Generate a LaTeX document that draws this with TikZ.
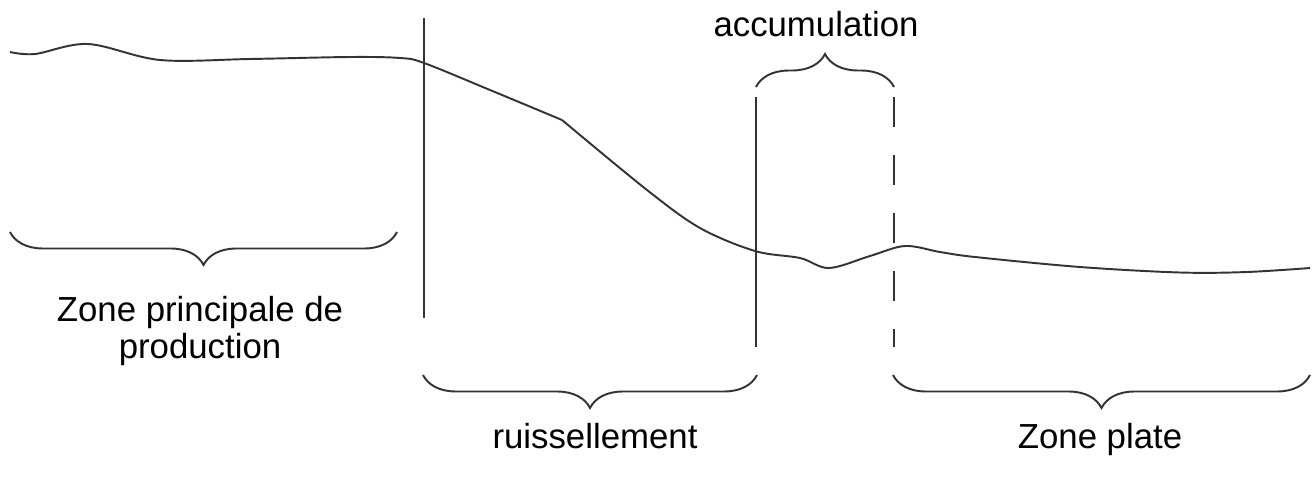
\documentclass[tikz,border=0pt]{standalone}
\usepackage{fontspec}
\setmainfont{Liberation Sans}
\usetikzlibrary{decorations.pathreplacing}
\begin{document}
\begin{tikzpicture}[x=0.02cm,y=-0.02cm,
  ln/.style={line width=1.1pt,draw=black!80},
  brc/.style={ln,decorate,decoration={brace,amplitude=0.66cm,aspect=0.5}},
  lbl/.style={font=\fontsize{19.8}{25}\selectfont,anchor=base,inner sep=0pt,align=center}]
\useasboundingbox (0,0) rectangle (1314,483);
% terrain profile
\draw[ln] plot[smooth,tension=0.55] coordinates {(10,52) (35,54) (88,44) (160,60) (250,59) (350,57) (400,58) (424,63) (490,90) (562,120)};
\draw[ln] plot[smooth,tension=0.55] coordinates {(562,120) (647,190) (700,228) (755,251) (800,258) (829,268) (870,256) (905,246) (940,252) (975,257) (1080,267) (1180,272.5) (1247,272) (1310,268)};
% vertical limits
\coordinate (v1t) at (424,18); \coordinate (v1b) at (424,318);
\coordinate (v2t) at (756,97); \coordinate (v2b) at (756,347);
\coordinate (v3t) at (894,97); \coordinate (v3b) at (894,347);
\draw[ln] (v1t) -- (v1b);
\draw[ln] (v2t) -- (v2b);
\draw[ln,dash pattern=on 0.6cm off 0.56cm] (v3t) -- (v3b);
% braces
\coordinate (b1l) at (10,232); \coordinate (b1r) at (397,232);
\coordinate (b2l) at (423,375); \coordinate (b2r) at (757,375);
\coordinate (b3l) at (893,375); \coordinate (b3r) at (1310,375);
\coordinate (b4l) at (756,87); \coordinate (b4r) at (894,87);
\draw[brc] (b1r) -- (b1l);
\draw[brc] (b2r) -- (b2l);
\draw[brc] (b3r) -- (b3l);
\draw[brc] (b4l) -- (b4r);
% labels
\node[lbl] (acc) at (816,37) {accumulation};
\node[lbl] (zpp) at (200,358) {Zone principale de\\[-4.5pt]production};
\node[lbl] (ruis) at (595,448) {ruissellement};
\node[lbl] (zpl) at (1100,448) {Zone plate};
\end{tikzpicture}
\end{document}
